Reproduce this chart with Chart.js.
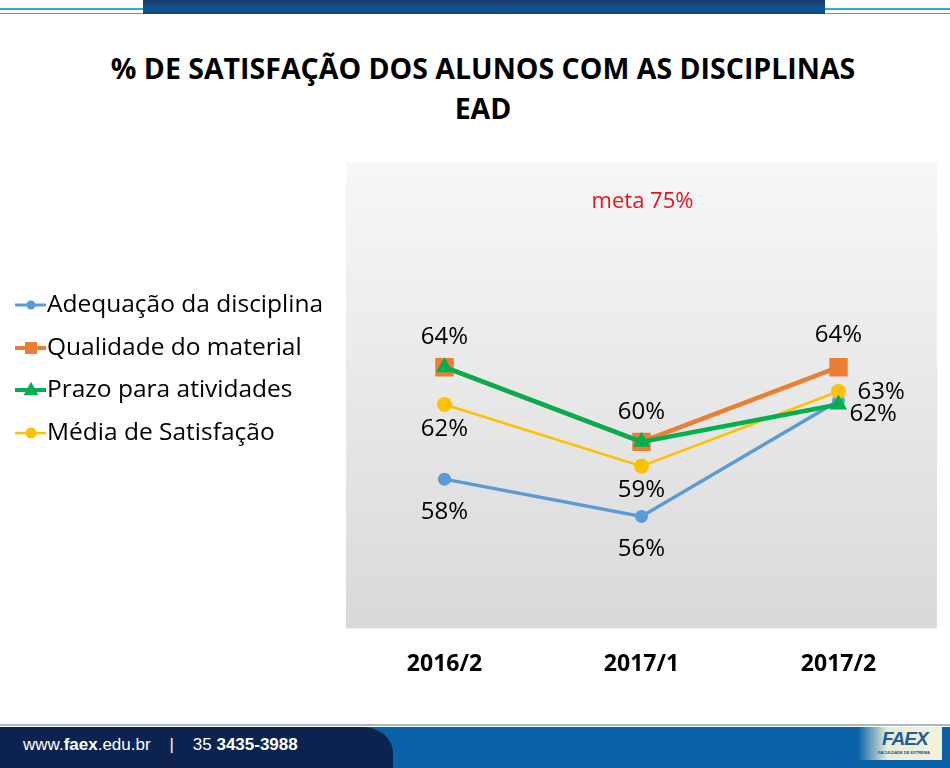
<!DOCTYPE html>
<html>
<head>
<meta charset="utf-8">
<script src="https://cdn.jsdelivr.net/npm/chart.js@4/dist/chart.umd.min.js"></script>
<style>
  body { margin: 0; background: #fff; }
  #slide { position: relative; width: 950px; height: 768px; overflow: hidden; background: #fff; font-family: "Open Sans", sans-serif; }
  .hline { position: absolute; left: 0; width: 950px; }
  #topbar { position: absolute; left: 143px; top: 0; width: 682px; height: 14px;
    background: linear-gradient(#203766, #0b5792 55%, #16467c); }
  #title { position: absolute; left: 33px; width: 900px; top: 48px; text-align: center;
    font-weight: 700; font-size: 28.5px; line-height: 40px; color: #000; }
  #chart { position: absolute; left: 0; top: 0; }
  #footline { position: absolute; left: 0; top: 724px; width: 950px; height: 2px; background: #a7b8cc; }
  #footblue { position: absolute; left: 0; top: 727px; width: 950px; height: 41px; background: #0a62a8; }
  #footnavy { position: absolute; left: 0; top: 727px; width: 393px; height: 41px; background: #0c2350;
    border-top-right-radius: 30px 26px; }
  #foottext { position: absolute; left: 23px; top: 735px; font-family: Arial, "Liberation Sans", sans-serif;
    font-size: 17px; color: #fff; white-space: pre; }
  #logo { position: absolute; left: 858px; top: 727px; width: 84px; height: 33px;
    background: linear-gradient(90deg, rgba(255,255,255,0) 0%, #e9edd6 35%, #f3f1dc 100%); }
  #logo .big { position: absolute; left: 24px; top: 1px; font-family: Arial, sans-serif; font-weight: 900;
    font-style: italic; font-size: 19px; color: #1b5ca3; letter-spacing: -1px; }
  #logo .small { position: absolute; left: 20px; top: 23px; font-family: Arial, sans-serif; font-size: 4px;
    font-weight: 700; color: #1b4c88; }
</style>
</head>
<body>
<div id="slide">
  <div class="hline" style="top:8px;height:2px;background:#38a3dc"></div>
  <div class="hline" style="top:13px;height:1px;background:#5d8fbf"></div>
  <div id="topbar"></div>
  <div id="title">% DE SATISFAÇÃO DOS ALUNOS COM AS DISCIPLINAS<br>EAD</div>
  <div id="footline"></div>
  <div id="footblue"></div>
  <div id="footnavy"></div>
  <div id="foottext">www.<b>faex</b>.edu.br    |    35 <b>3435-3988</b></div>
  <div id="logo"><span class="big">FAEX</span><span class="small">FACULDADE DE EXTREMA</span></div>
  <canvas id="chart" width="950" height="768"></canvas>
</div>
<script>
// data
const periods = ['2016/2', '2017/1', '2017/2'];
const seriesNames = ['Adequação da disciplina', 'Qualidade do material', 'Prazo para atividades', 'Média de Satisfação'];
const adequacao = [58, 56, 62.2];
const qualidade = [64, 60, 64];
const prazo = [64, 60, 62];
const media = [62, 58.7, 62.7];
const metaText = 'meta 75%';

// where each value label sits (null = hidden)
const labelSpots = [
  [{dx: 0, dy: 33}, {dx: 0, dy: 33}, null],
  [{dx: 0, dy: -30}, {dx: 0, dy: -30}, {dx: 0, dy: -32}],
  [null, null, {dx: 11, dy: 10, left: true}],
  [{dx: 0, dy: 25}, {dx: 0, dy: 24}, {dx: 19, dy: 1, left: true}]
];

const colors = ['#5b9bd5', '#ed7d31', '#00b050', '#ffc000'];
const shapes = ['circle', 'rect', 'triangle', 'circle'];

const bgPlugin = {
  id: 'bg',
  beforeDraw(chart) {
    const {ctx, chartArea: a} = chart;
    const g = ctx.createLinearGradient(0, a.top, 0, a.bottom);
    g.addColorStop(0, '#f7f7f7');
    g.addColorStop(1, '#d9d9d9');
    ctx.save();
    ctx.fillStyle = g;
    ctx.fillRect(a.left, a.top, a.right - a.left, a.bottom - a.top);
    ctx.fillStyle = '#e8141c';
    ctx.font = '22px "Open Sans"';
    ctx.textAlign = 'center';
    ctx.textBaseline = 'middle';
    ctx.fillText(metaText, (a.left + a.right) / 2 + 1, 202);
    ctx.restore();
  }
};

const labelPlugin = {
  id: 'valueLabels',
  afterDatasetsDraw(chart) {
    const ctx = chart.ctx;
    ctx.save();
    ctx.font = '24px "Open Sans"';
    ctx.fillStyle = '#000';
    ctx.textBaseline = 'middle';
    chart.data.datasets.forEach((ds, i) => {
      chart.getDatasetMeta(i).data.forEach((pt, j) => {
        const s = labelSpots[i][j];
        if (!s) return;
        ctx.textAlign = s.left ? 'left' : 'center';
        ctx.fillText(Math.round(ds.data[j]) + '%', pt.x + s.dx, pt.y + s.dy);
      });
    });
    ctx.restore();
  }
};

function drawMark(ctx, shape, x, y, size, color) {
  ctx.fillStyle = color;
  ctx.beginPath();
  if (shape === 'rect') {
    ctx.rect(x - size, y - size, size * 2, size * 2);
  } else if (shape === 'triangle') {
    ctx.moveTo(x, y - size * 1.1);
    ctx.lineTo(x + size, y + size * 0.7);
    ctx.lineTo(x - size, y + size * 0.7);
    ctx.closePath();
  } else {
    ctx.arc(x, y, size, 0, Math.PI * 2);
  }
  ctx.fill();
}

const legendPlugin = {
  id: 'sideLegend',
  afterDraw(chart) {
    const ctx = chart.ctx;
    const rows = [305, 348, 390, 433];
    const widths = [3, 4, 4, 2.5];
    const sizes = [4.5, 6, 7.5, 5.5];
    ctx.save();
    chart.data.datasets.forEach((ds, i) => {
      const y = rows[i];
      ctx.strokeStyle = ds.borderColor;
      ctx.lineWidth = widths[i];
      ctx.beginPath();
      ctx.moveTo(15, y);
      ctx.lineTo(46, y);
      ctx.stroke();
      drawMark(ctx, shapes[i], 31, y, sizes[i], ds.borderColor);
      ctx.fillStyle = '#000';
      ctx.font = '24.5px "Open Sans"';
      ctx.textAlign = 'left';
      ctx.textBaseline = 'middle';
      ctx.fillText(ds.label, 47, y);
    });
    ctx.restore();
  }
};

const values = [adequacao, qualidade, prazo, media];
const lineWidths = [3.5, 4.5, 4.5, 2.5];
const radii = [6.5, 13, 10, 7.5];
const drawOrder = [3, 1, 0, 2];

new Chart(document.getElementById('chart'), {
  type: 'line',
  data: {
    labels: periods,
    datasets: seriesNames.map((name, i) => ({
      label: name,
      data: values[i],
      borderColor: colors[i],
      backgroundColor: colors[i],
      pointBackgroundColor: colors[i],
      pointBorderColor: colors[i],
      pointBorderWidth: 0,
      borderWidth: lineWidths[i],
      pointStyle: shapes[i],
      pointRadius: radii[i],
      tension: 0,
      order: drawOrder[i]
    }))
  },
  options: {
    responsive: false,
    animation: false,
    layout: { padding: { top: 162, left: 346, right: 5, bottom: 68 } },
    plugins: {
      legend: { display: false },
      tooltip: { enabled: false }
    },
    scales: {
      y: { min: 50, max: 75, display: false },
      x: {
        offset: true,
        grid: { display: false, drawTicks: false },
        border: { display: false },
        ticks: {
          color: '#000',
          padding: 22,
          font: { family: '"Open Sans"', size: 23, weight: 'bold' }
        }
      }
    }
  },
  plugins: [bgPlugin, labelPlugin, legendPlugin]
});
</script>
</body>
</html>
